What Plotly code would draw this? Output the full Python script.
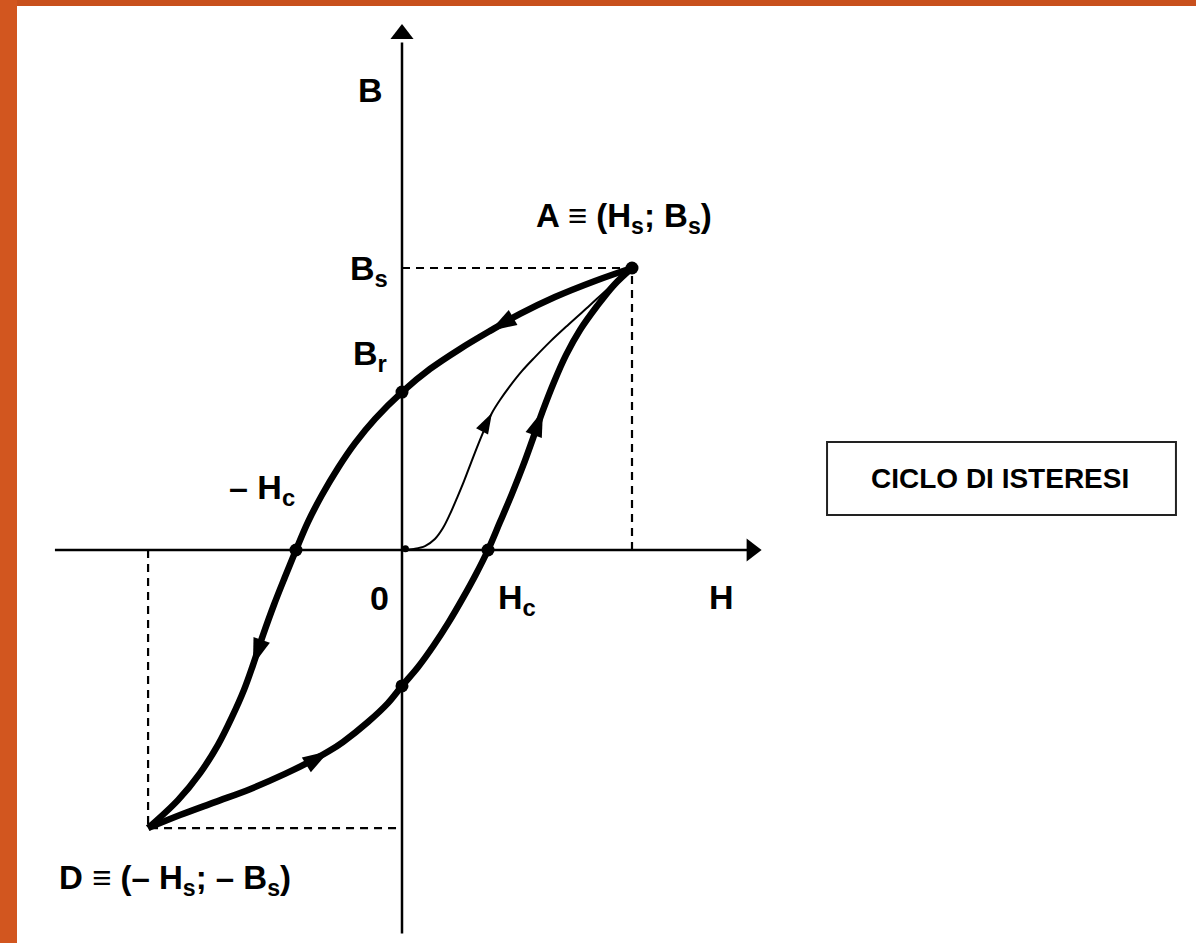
import math
import plotly.graph_objects as go

# ---- data (H, B in normalized units: Hs = 1, Bs = 1) ----
# descending branch A -> Br -> -Hc -> D
upper_H = [1.000, 0.839, 0.665, 0.513, 0.383, 0.252, 0.122, 0.000, -0.117, -0.204, -0.278, -0.348,
           -0.409, -0.461, -0.509, -0.557, -0.604, -0.648, -0.687, -0.739, -0.800, -0.878, -0.974, -1.104]
upper_B = [1.000, 0.954, 0.897, 0.837, 0.777, 0.713, 0.642, 0.560, 0.465, 0.379, 0.291, 0.195,
           0.099, 0.000, -0.096, -0.195, -0.301, -0.408, -0.496, -0.592, -0.691, -0.791, -0.887, -0.986]
# ascending branch D -> -Br -> Hc -> A
lower_H = [-1.104, -0.965, -0.813, -0.661, -0.509, -0.378, -0.317, -0.257, -0.148, -0.061, 0.000,
           0.070, 0.139, 0.204, 0.265, 0.322, 0.374, 0.426, 0.478, 0.526, 0.570, 0.613, 0.661,
           0.713, 0.774, 0.848, 0.922, 1.000]
lower_B = [-0.986, -0.940, -0.894, -0.848, -0.794, -0.741, -0.713, -0.681, -0.610, -0.543, -0.482,
           -0.415, -0.337, -0.255, -0.170, -0.085, 0.000, 0.099, 0.199, 0.298, 0.397, 0.496, 0.596,
           0.691, 0.780, 0.865, 0.940, 1.000]
# first magnetization curve O -> A
first_H = [0.000, 0.052, 0.100, 0.143, 0.178, 0.209, 0.239, 0.270, 0.300, 0.330, 0.361, 0.391,
           0.426, 0.470, 0.522, 0.578, 0.643, 0.722, 0.809, 0.904, 1.000]
first_B = [0.000, 0.004, 0.014, 0.039, 0.078, 0.128, 0.184, 0.245, 0.309, 0.372, 0.433, 0.486,
           0.532, 0.582, 0.635, 0.684, 0.738, 0.798, 0.862, 0.933, 1.000]

Hs, Bs = 1.0, 1.0
Hs_neg, Bs_neg = -1.104, -0.986
Br, Br_neg = 0.560, -0.482
Hc, Hc_neg = 0.374, -0.461

# arrow positions: (curve name, index along curve)
arrow_idx = [("upper", 4), ("upper", 17), ("lower", 6), ("lower", 21), ("first", 11)]

# ---- layout scale ----
W, Hpx = 1196, 943
PX_H, PX_B = 230.0, 282.0       # pixels per unit
ORIG_X, ORIG_Y = 402.0, 550.0   # pixel position of origin
xr = [-ORIG_X / PX_H, (W - ORIG_X) / PX_H]
yr = [-(Hpx - ORIG_Y) / PX_B, ORIG_Y / PX_B]

FONT = "Liberation Sans, Arial, sans-serif"

fig = go.Figure()

# dashed guide lines
dash_style = dict(color="black", width=2.2, dash="8px,6px")
fig.add_trace(go.Scatter(x=[0, Hs, Hs], y=[Bs, Bs, 0], mode="lines", line=dash_style, hoverinfo="skip"))
fig.add_trace(go.Scatter(x=[Hs_neg, Hs_neg, 0], y=[0, Bs_neg, Bs_neg], mode="lines", line=dash_style, hoverinfo="skip"))

# axes
fig.add_trace(go.Scatter(x=[-1.509, 1.50], y=[0, 0], mode="lines", line=dict(color="black", width=2.5), hoverinfo="skip"))
fig.add_trace(go.Scatter(x=[0, 0], y=[-1.36, 1.80], mode="lines", line=dict(color="black", width=2.5), hoverinfo="skip"))
fig.add_trace(go.Scatter(x=[1.52], y=[0], mode="markers",
                         marker=dict(symbol="triangle-right", size=20, color="black"), hoverinfo="skip"))
fig.add_trace(go.Scatter(x=[0], y=[1.83], mode="markers",
                         marker=dict(symbol="triangle-up", size=20, color="black"), hoverinfo="skip"))

# curves
fig.add_trace(go.Scatter(x=first_H, y=first_B, mode="lines", line=dict(color="black", width=2, shape="spline"), hoverinfo="skip"))
fig.add_trace(go.Scatter(x=upper_H, y=upper_B, mode="lines", line=dict(color="black", width=6.5, shape="spline"), hoverinfo="skip"))
fig.add_trace(go.Scatter(x=lower_H, y=lower_B, mode="lines", line=dict(color="black", width=6.5, shape="spline"), hoverinfo="skip"))

# arrows along curves
curves = {"upper": (upper_H, upper_B), "lower": (lower_H, lower_B), "first": (first_H, first_B)}
for name, i in arrow_idx:
    hx, by = curves[name]
    dxp = (hx[i + 1] - hx[i - 1]) * PX_H
    dyp = -(by[i + 1] - by[i - 1]) * PX_B
    ang = math.degrees(math.atan2(dxp, -dyp))
    size = 28 if name != "first" else 22
    fig.add_trace(go.Scatter(x=[hx[i]], y=[by[i]], mode="markers",
                             marker=dict(symbol="arrow", size=size, angle=ang, color="black",
                                         line=dict(width=0)),
                             hoverinfo="skip"))

# key points
fig.add_trace(go.Scatter(x=[Hs, 0, Hc_neg, Hc, 0], y=[Bs, Br, 0, 0, Br_neg], mode="markers",
                         marker=dict(size=13, color="black"), hoverinfo="skip"))
fig.add_trace(go.Scatter(x=[0.015], y=[0.004], mode="markers", marker=dict(size=7, color="black"), hoverinfo="skip"))

# labels
def label(x, y, text, size=34):
    fig.add_annotation(x=x, y=y, text=text, showarrow=False,
                       font=dict(family=FONT, size=size, color="black"), xanchor="center", yanchor="middle")

label(-0.139, 1.631, "<b>B</b>")
label(0.965, 1.177, "<b>A ≡ (H<sub>s</sub>; B<sub>s</sub>)</b>", 33)
label(-0.145, 0.99, "<b>B<sub>s</sub></b>")
label(-0.139, 0.69, "<b>B<sub>r</sub></b>")
label(-0.61, 0.213, "<b>– H<sub>c</sub></b>")
label(-0.10, -0.170, "<b>0</b>")
label(0.50, -0.177, "<b>H<sub>c</sub></b>")
label(1.391, -0.167, "<b>H</b>")
label(-0.987, -1.170, "<b>D ≡ (– H<sub>s</sub>; – B<sub>s</sub>)</b>", 33)

# title box
fig.add_shape(type="rect", x0=1.848, x1=3.365, y0=0.124, y1=0.383, xref="x", yref="y",
              line=dict(color="#222222", width=2), fillcolor="white")
fig.add_annotation(x=2.6, y=0.255, text="<b>CICLO DI ISTERESI</b>", showarrow=False,
                   font=dict(family=FONT, size=28, color="black"))

# orange slide border
fig.add_shape(type="rect", xref="paper", yref="paper", x0=0, x1=1, y0=1 - 6 / Hpx, y1=1,
              line=dict(width=0), fillcolor="#C8501D", layer="above")
fig.add_shape(type="rect", xref="paper", yref="paper", x0=0, x1=17 / W, y0=0, y1=1,
              line=dict(width=0), fillcolor="#D2561F", layer="above")

fig.update_layout(
    width=W, height=Hpx, margin=dict(l=0, r=0, t=0, b=0),
    plot_bgcolor="white", paper_bgcolor="white", showlegend=False,
    xaxis=dict(range=xr, visible=False, fixedrange=True),
    yaxis=dict(range=yr, visible=False, fixedrange=True),
)

fig.write_html("out.html", config={"displayModeBar": False},
               post_script="document.body.style.margin='0';")
